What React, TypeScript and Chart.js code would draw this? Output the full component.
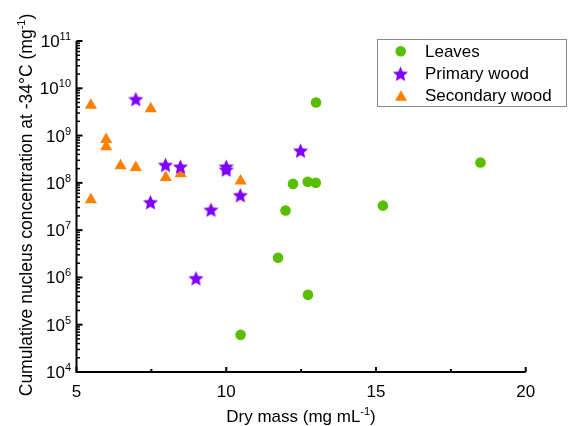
import React, { useEffect, useRef } from 'react';
import { Chart, registerables } from 'chart.js';

Chart.register(...registerables);

// ---- data ----
const seriesNames = ['Leaves', 'Primary wood', 'Secondary wood'];
const leavesX = [13.0, 12.23, 12.72, 12.99, 11.98, 11.73, 12.73, 10.48, 18.49, 15.23];
const leavesY = [5.0e9, 9.5e7, 1.05e8, 1.0e8, 2.6e7, 2.6e6, 4.3e5, 6.1e4, 2.7e8, 3.3e7];
const primaryX = [6.98, 7.97, 8.47, 7.47, 9.49, 10.0, 10.0, 10.47, 12.48, 8.99];
const primaryY = [5.9e9, 2.4e8, 2.2e8, 3.9e7, 2.7e7, 2.2e8, 1.9e8, 5.5e7, 4.8e8, 9.6e5];
const secondaryX = [5.48, 7.48, 5.99, 5.99, 6.47, 6.98, 7.98, 8.48, 10.48, 5.48];
const secondaryY = [4.4e9, 3.7e9, 8.3e8, 5.8e8, 2.3e8, 2.1e8, 1.3e8, 1.55e8, 1.1e8, 4.4e7];
const xTickValues = [5, 10, 15, 20];
const xMinorTickValues = [7.5, 12.5, 17.5];
const yTickExponents = [4, 5, 6, 7, 8, 9, 10, 11];
const xTitle = ['Dry mass (mg mL', '-1', ')'];
const yTitle = ['Cumulative nucleus concentration at -34°C (mg', '-1', ')'];

const GREEN = 'rgb(88,190,0)';
const PURPLE = 'rgb(128,0,255)';
const ORANGE = 'rgb(255,128,0)';
const FONT = '"Liberation Sans", Arial, sans-serif';

let starImage: HTMLCanvasElement | null = null;

function drawStarPath(ctx: CanvasRenderingContext2D, cx: number, cy: number, R: number, r: number) {
  ctx.beginPath();
  for (let i = 0; i < 10; i++) {
    const rad = (Math.PI / 5) * i;
    const rr = i % 2 === 0 ? R : r;
    const px = cx + Math.sin(rad) * rr;
    const py = cy - Math.cos(rad) * rr;
    if (i === 0) ctx.moveTo(px, py);
    else ctx.lineTo(px, py);
  }
  ctx.closePath();
}

function makeStar(): HTMLCanvasElement {
  const c = document.createElement('canvas');
  c.width = 17;
  c.height = 17;
  const g = c.getContext('2d')!;
  g.fillStyle = PURPLE;
  drawStarPath(g, 8.5, 9.2, 8, 3.7);
  g.fill();
  return c;
}

function drawTriangle(ctx: CanvasRenderingContext2D, x: number, y: number, r: number) {
  ctx.beginPath();
  let rad = 0;
  for (let i = 0; i < 3; i++) {
    const px = x + Math.sin(rad) * r;
    const py = y - Math.cos(rad) * r;
    if (i === 0) ctx.moveTo(px, py);
    else ctx.lineTo(px, py);
    rad += (2 * Math.PI) / 3;
  }
  ctx.closePath();
}

function drawSupText(
  ctx: CanvasRenderingContext2D,
  parts: string[],
  x: number,
  y: number,
  align: 'left' | 'center' | 'right',
  size: number,
  supSize: number,
  supRaise: number
) {
  ctx.textAlign = 'left';
  ctx.textBaseline = 'alphabetic';
  const fonts = parts.map((_, i) => `${i % 2 === 1 ? supSize : size}px ${FONT}`);
  const widths = parts.map((p, i) => {
    ctx.font = fonts[i];
    return ctx.measureText(p).width;
  });
  const total = widths.reduce((a, b) => a + b, 0);
  let cx = align === 'left' ? x : align === 'center' ? x - total / 2 : x - total;
  parts.forEach((p, i) => {
    ctx.font = fonts[i];
    ctx.fillText(p, cx, i % 2 === 1 ? y - supRaise : y);
    cx += widths[i];
  });
}

const axesPlugin = {
  id: 'customAxes',
  afterDraw(chart: any) {
    const ctx: CanvasRenderingContext2D = chart.ctx;
    const xs = chart.scales.x;
    const ys = chart.scales.y;
    const { left, right, top, bottom } = chart.chartArea;
    ctx.save();
    ctx.strokeStyle = '#000';
    ctx.fillStyle = '#000';
    // axis lines
    ctx.lineWidth = 2;
    ctx.beginPath();
    ctx.moveTo(left, top);
    ctx.lineTo(left, bottom + 1);
    ctx.moveTo(left - 1, bottom);
    ctx.lineTo(right, bottom);
    ctx.stroke();
    // y ticks
    yTickExponents.forEach((e) => {
      const py = ys.getPixelForValue(Math.pow(10, e));
      ctx.lineWidth = 2;
      ctx.beginPath();
      ctx.moveTo(left, py);
      ctx.lineTo(left + 6, py);
      ctx.stroke();
      if (e < yTickExponents[yTickExponents.length - 1]) {
        ctx.lineWidth = 1.5;
        for (let m = 2; m <= 9; m++) {
          const my = ys.getPixelForValue(m * Math.pow(10, e));
          ctx.beginPath();
          ctx.moveTo(left, my);
          ctx.lineTo(left + 3.5, my);
          ctx.stroke();
        }
      }
      drawSupText(ctx, ['10', String(e)], 71, py + 6, 'right', 17, 11, 7);
    });
    // x ticks
    ctx.lineWidth = 2;
    xTickValues.forEach((v) => {
      const px = xs.getPixelForValue(v);
      ctx.beginPath();
      ctx.moveTo(px, bottom);
      ctx.lineTo(px, bottom - 5);
      ctx.stroke();
      ctx.font = `17px ${FONT}`;
      ctx.textAlign = 'center';
      ctx.textBaseline = 'alphabetic';
      ctx.fillText(String(v), px, 396.5);
    });
    xMinorTickValues.forEach((v) => {
      const px = xs.getPixelForValue(v);
      ctx.beginPath();
      ctx.moveTo(px, bottom);
      ctx.lineTo(px, bottom - 3);
      ctx.stroke();
    });
    // titles
    drawSupText(ctx, xTitle, 301, 421.5, 'center', 17, 11, 7);
    ctx.save();
    ctx.translate(31.5, 205);
    ctx.rotate(-Math.PI / 2);
    drawSupText(ctx, yTitle, 0, 0, 'center', 17.5, 11, 7);
    ctx.restore();
    // legend
    ctx.strokeStyle = '#8a8a8a';
    ctx.lineWidth = 1;
    ctx.strokeRect(377.5, 39.5, 189, 67);
    ctx.fillStyle = GREEN;
    ctx.beginPath();
    ctx.arc(400.7, 51.2, 5.3, 0, Math.PI * 2);
    ctx.fill();
    if (starImage) ctx.drawImage(starImage, 400.5 - 8.5, 73.8 - 8.5);
    ctx.fillStyle = ORANGE;
    drawTriangle(ctx, 401, 97.3, 7);
    ctx.fill();
    ctx.fillStyle = '#000';
    ctx.font = `17px ${FONT}`;
    ctx.textAlign = 'left';
    ctx.textBaseline = 'alphabetic';
    const baselines = [56.5, 78.8, 101.2];
    seriesNames.forEach((n, i) => ctx.fillText(n, 425, baselines[i]));
    ctx.restore();
  },
};

export default function App() {
  const ref = useRef<HTMLCanvasElement>(null);
  useEffect(() => {
    if (!ref.current) return;
    starImage = makeStar();
    const toPts = (xs: number[], ys: number[]) => xs.map((x, i) => ({ x, y: ys[i] }));
    const chart: any = new Chart(ref.current, {
      type: 'scatter',
      data: {
        datasets: [
          {
            label: seriesNames[0],
            data: toPts(leavesX, leavesY),
            pointStyle: 'circle',
            pointRadius: 5.3,
            backgroundColor: GREEN,
            borderWidth: 0,
          },
          {
            label: seriesNames[1],
            data: toPts(primaryX, primaryY),
            pointStyle: starImage,
            pointRadius: 8,
            backgroundColor: PURPLE,
            borderWidth: 0,
          },
          {
            label: seriesNames[2],
            data: toPts(secondaryX, secondaryY),
            pointStyle: 'triangle',
            pointRadius: 7,
            backgroundColor: ORANGE,
            borderWidth: 0,
          },
        ],
      },
      options: {
        responsive: false,
        animation: false,
        devicePixelRatio: 1,
        layout: { padding: { left: 76.5, right: 42.3, top: 41, bottom: 54 } },
        plugins: { legend: { display: false }, tooltip: { enabled: false } },
        scales: {
          x: {
            type: 'linear',
            display: false,
            min: 5,
            max: 20,
            grid: { display: false },
            ticks: { display: false },
            border: { display: false },
          },
          y: {
            type: 'logarithmic',
            display: false,
            min: 1e4,
            max: 1e11,
            grid: { display: false },
            ticks: { display: false },
            border: { display: false },
          },
        },
      },
      plugins: [axesPlugin],
    });
    return () => chart.destroy();
  }, []);
  return (
    <div style={{ position: 'absolute', left: 0, top: 0, width: 568, height: 426, background: '#fff' }}>
      <canvas ref={ref} width={568} height={426} style={{ display: 'block' }} />
    </div>
  );
}
